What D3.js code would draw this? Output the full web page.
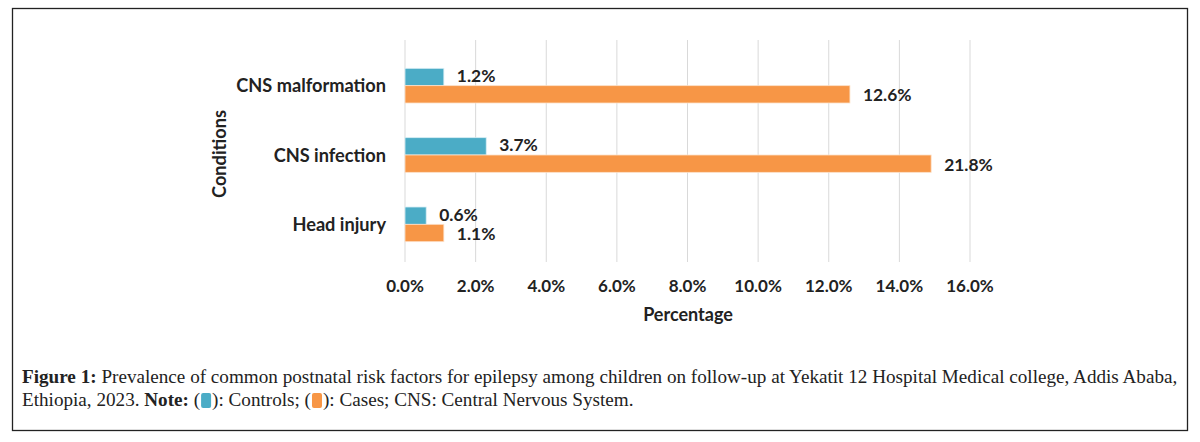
<!DOCTYPE html>
<html>
<head>
<meta charset="utf-8">
<script src="https://cdn.jsdelivr.net/npm/d3@7"></script>
<style>
  body { margin: 0; background: #fff; }
  svg { display: block; }
</style>
</head>
<body>
<div id="chart"></div>
<script>
(function() {
  // data (top to bottom)
  var conditions = ['CNS malformation', 'CNS infection', 'Head injury'],
      controls = [1.1, 2.3, 0.6],          // drawn bar length, %
      cases = [12.6, 14.9, 1.1],
      controlLabels = ['1.2%', '3.7%', '0.6%'],  // printed labels
      caseLabels = ['12.6%', '21.8%', '1.1%'],
      ticks = [0, 2, 4, 6, 8, 10, 12, 14, 16];

  var W = 1200, H = 442,
      teal = '#4bacc6', orange = '#f79646',
      font = 'Lato, "Open Sans", sans-serif',
      serif = '"Liberation Serif", "DejaVu Serif", serif';

  var svg = d3.select('#chart').append('svg')
    .attr('width', W).attr('height', H);

  // frame
  svg.append('rect')
    .attr('x', 12.5).attr('y', 8.5)
    .attr('width', 1175).attr('height', 422)
    .attr('fill', 'none').attr('stroke', '#222').attr('stroke-width', 1.3);

  var x = d3.scaleLinear().domain([0, 16]).range([405, 970]);
  var y = d3.scaleBand().domain(conditions).range([51, 259]).paddingInner(0.5).paddingOuter(0.25);
  var bh = y.bandwidth() / 2;

  // gridlines
  svg.append('g').selectAll('line').data(ticks).join('line')
    .attr('x1', function(d) { return x(d); })
    .attr('x2', function(d) { return x(d); })
    .attr('y1', 40).attr('y2', 262)
    .attr('stroke', '#d9d9d9').attr('stroke-width', 1);

  // tick labels
  svg.append('g').selectAll('text').data(ticks).join('text')
    .attr('x', function(d) { return x(d); })
    .attr('y', 292)
    .attr('text-anchor', 'middle')
    .attr('font-family', font).attr('font-weight', 'bold').attr('font-size', 17)
    .attr('fill', '#222')
    .text(function(d) { return d.toFixed(1) + '%'; });

  var rows = conditions.map(function(c, i) {
    return { name: c, ctl: controls[i], cas: cases[i], ctlL: controlLabels[i], casL: caseLabels[i] };
  });

  var g = svg.append('g').selectAll('g').data(rows).join('g');

  g.append('rect')
    .attr('x', x(0)).attr('y', function(d) { return y(d.name); })
    .attr('width', function(d) { return x(d.ctl) - x(0); })
    .attr('height', bh)
    .attr('fill', teal).attr('stroke', '#d6eef4').attr('stroke-width', 0.8);

  g.append('rect')
    .attr('x', x(0)).attr('y', function(d) { return y(d.name) + bh; })
    .attr('width', function(d) { return x(d.cas) - x(0); })
    .attr('height', bh)
    .attr('fill', orange).attr('stroke', '#fde0c8').attr('stroke-width', 0.8);

  g.append('text')
    .attr('x', function(d) { return x(d.ctl) + 13; })
    .attr('y', function(d) { return y(d.name) + bh / 2 + 5; })
    .attr('font-family', font).attr('font-weight', 'bold').attr('font-size', 17.4)
    .attr('fill', '#222')
    .text(function(d) { return d.ctlL; });

  g.append('text')
    .attr('x', function(d) { return x(d.cas) + 13; })
    .attr('y', function(d) { return y(d.name) + bh * 1.5 + 7; })
    .attr('font-family', font).attr('font-weight', 'bold').attr('font-size', 17.4)
    .attr('fill', '#222')
    .text(function(d) { return d.casL; });

  // category labels
  g.append('text')
    .attr('x', 386)
    .attr('y', function(d) { return y(d.name) + bh + 6.5; })
    .attr('text-anchor', 'end')
    .attr('font-family', font).attr('font-weight', 'bold').attr('font-size', 18.2)
    .attr('fill', '#222')
    .text(function(d) { return d.name; });

  // axis titles
  svg.append('text')
    .attr('x', 688).attr('y', 321)
    .attr('text-anchor', 'middle')
    .attr('font-family', font).attr('font-weight', 'bold').attr('font-size', 18)
    .attr('fill', '#222')
    .text('Percentage');

  svg.append('text')
    .attr('transform', 'translate(226,154) rotate(-90)')
    .attr('text-anchor', 'middle')
    .attr('font-family', font).attr('font-weight', 'bold').attr('font-size', 18.2)
    .attr('fill', '#222')
    .text('Conditions');

  // caption
  var cap = svg.append('g')
    .attr('font-family', serif).attr('font-size', 19.15).attr('fill', '#222');

  var line1 = cap.append('text').attr('x', 22).attr('y', 383);
  line1.append('tspan').attr('font-weight', 'bold').text('Figure 1:');
  line1.append('tspan').text(' Prevalence of common postnatal risk factors for epilepsy among children on follow-up at Yekatit 12 Hospital Medical college, Addis Ababa,');

  // line 2 built piece by piece so swatches can sit inside the brackets
  var cx = 22;
  var parts = [
    { t: 'Ethiopia, 2023. ' },
    { t: 'Note:', b: true },
    { t: ' (' },
    { sw: teal },
    { t: '): Controls; (' },
    { sw: orange },
    { t: '): Cases; CNS: Central Nervous System.' }
  ];
  parts.forEach(function(p) {
    if (p.sw) {
      cap.append('rect')
        .attr('x', cx + 1).attr('y', 393)
        .attr('width', 10).attr('height', 15).attr('rx', 2)
        .attr('fill', p.sw);
      cx += 12;
    } else {
      var t = cap.append('text').attr('x', cx).attr('y', 406)
        .attr('font-weight', p.b ? 'bold' : null)
        .attr('xml:space', 'preserve')
        .style('white-space', 'pre')
        .text(p.t);
      cx += t.node().getComputedTextLength();
    }
  });
})();
</script>
</body>
</html>
